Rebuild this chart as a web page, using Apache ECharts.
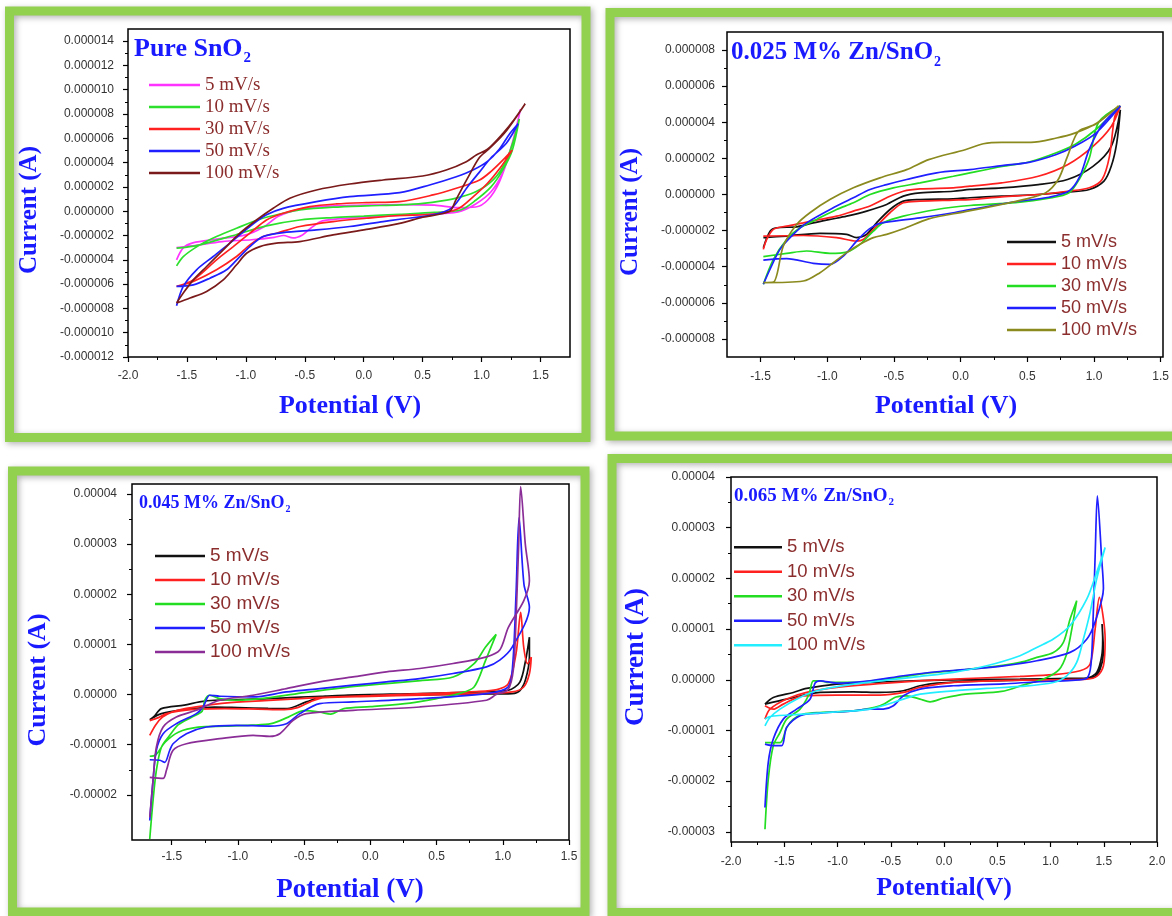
<!DOCTYPE html>
<html>
<head>
<meta charset="utf-8">
<script src="https://cdn.jsdelivr.net/npm/echarts@6/dist/echarts.min.js"></script>
<style>
  html, body { margin: 0; padding: 0; background: #fff; }
  #main { width: 1172px; height: 916px; }
</style>
</head>
<body>
<div id="main"></div>
<script>
// scan rates (legend entries, same order in every panel)
const scanRates = ['5 mV/s', '10 mV/s', '30 mV/s', '50 mV/s', '100 mV/s']
const panelTitles = ['Pure SnO', '0.025 M% Zn/SnO', '0.045 M% Zn/SnO', '0.065 M% Zn/SnO']

// CV loops: [potential V, current µA]
// --- Pure SnO2
const p1_5 = [[-1.588,-4.0],[-1.53,-3.0],[-1.45,-2.6],[-1.25,-2.3],[-1.0,-1.95],[-0.85,-1.3],[-0.72,-0.4],[-0.55,0.15],[-0.35,0.4],[0.0,0.5],[0.3,0.55],[0.6,0.5],[0.8,0.3],[0.95,0.35],[1.05,0.9],[1.15,2.4],[1.25,5.2],[1.33,8.4],
  [1.26,5.6],[1.18,3.2],[1.08,1.6],[0.95,0.6],[0.8,-0.05],[0.5,-0.25],[0.2,-0.4],[-0.1,-0.55],[-0.35,-0.8],[-0.45,-1.4],[-0.52,-1.95],[-0.6,-2.2],[-0.68,-2.0],[-0.76,-2.15],[-0.95,-2.35],[-1.2,-2.5],[-1.45,-2.85],[-1.588,-3.0]]
const p1_10 = [[-1.588,-4.5],[-1.531,-3.73],[-1.39,-2.77],[-1.249,-2.08],[-1.079,-1.4],[-0.881,-0.66],[-0.684,-0.17],[-0.542,0.11],[-0.26,0.33],[0.023,0.44],[0.305,0.52],[0.503,0.65],[0.75,1.0],[0.95,1.6],[1.1,2.6],[1.2,4.0],[1.27,5.8],[1.32,7.6],
  [1.26,5.0],[1.18,3.4],[1.08,2.0],[0.95,0.9],[0.82,0.1],[0.6,-0.1],[0.305,-0.25],[0.0,-0.4],[-0.26,-0.52],[-0.542,-0.72],[-0.825,-1.2],[-1.107,-2.0],[-1.39,-2.77],[-1.5,-2.95],[-1.588,-3.04]]
const p1_30 = [[-1.588,-6.19],[-1.446,-5.65],[-1.249,-4.0],[-1.107,-2.91],[-0.966,-1.81],[-0.825,-0.72],[-0.684,-0.17],[-0.458,0.38],[-0.232,0.6],[0.023,0.71],[0.305,0.79],[0.588,1.34],[0.785,1.89],[0.983,2.57],[1.083,3.3],[1.18,4.2],[1.26,5.03],
  [1.16,3.6],[1.05,2.3],[0.93,1.2],[0.8,0.2],[0.588,-0.25],[0.305,-0.35],[0.023,-0.58],[-0.26,-0.85],[-0.542,-1.26],[-0.74,-1.81],[-0.853,-2.08],[-0.966,-2.77],[-1.079,-3.73],[-1.249,-4.82],[-1.446,-5.78],[-1.588,-6.19]]
const p1_50 = [[-1.588,-7.78],[-1.531,-6.19],[-1.418,-4.82],[-1.277,-3.73],[-1.136,-2.63],[-0.966,-1.26],[-0.825,-0.3],[-0.684,0.24],[-0.401,0.79],[-0.119,1.2],[0.305,1.53],[0.559,2.16],[0.785,2.84],[0.927,3.39],[1.05,4.1],[1.15,5.1],[1.24,6.4],[1.31,7.2],
  [1.21,5.6],[1.08,4.4],[0.98,3.2],[0.88,2.0],[0.75,0.3],[0.588,-0.3],[0.305,-0.66],[0.164,-0.85],[-0.119,-1.26],[-0.401,-1.54],[-0.684,-1.76],[-0.853,-2.08],[-0.966,-2.91],[-1.051,-3.73],[-1.164,-4.82],[-1.305,-5.51],[-1.446,-6.06],[-1.588,-6.19]]
const p1_100 = [[-1.588,-7.56],[-1.531,-6.74],[-1.446,-5.65],[-1.333,-4.55],[-1.192,-3.18],[-1.051,-1.81],[-0.91,-0.72],[-0.768,0.24],[-0.627,1.07],[-0.401,1.75],[-0.119,2.24],[0.164,2.57],[0.5,2.9],[0.7,3.39],[0.87,4.08],[0.955,4.63],[1.05,5.1],[1.18,6.4],[1.28,7.6],[1.37,8.85],
  [1.2,6.5],[1.06,5.1],[0.98,4.4],[0.88,2.7],[0.78,0.9],[0.729,0.0],[0.5,-0.5],[0.305,-1.0],[0.023,-1.5],[-0.26,-1.95],[-0.542,-2.5],[-0.74,-2.63],[-0.881,-2.91],[-0.994,-3.46],[-1.079,-4.41],[-1.192,-5.65],[-1.333,-6.6],[-1.474,-7.15],[-1.588,-7.56]]

// --- 0.025 M% Zn/SnO2
const p2_5 = [[-1.479,-2.95],[-1.429,-2.03],[-1.379,-1.84],[-1.231,-1.79],[-1.107,-1.57],[-0.983,-1.38],[-0.858,-1.2],[-0.709,-0.92],[-0.56,-0.55],[-0.436,-0.09],[-0.311,0.09],[-0.063,0.18],[0.061,0.28],[0.297,0.37],[0.57,0.55],[0.788,0.83],[0.978,1.56],[1.114,2.67],[1.182,4.69],
  [1.155,2.85],[1.114,1.56],[1.06,0.74],[0.951,0.28],[0.788,0.13],[0.57,0.0],[0.297,-0.09],[0.061,-0.18],[-0.063,-0.24],[-0.311,-0.28],[-0.436,-0.37],[-0.535,-0.83],[-0.635,-1.57],[-0.709,-2.21],[-0.784,-2.39],[-0.858,-2.21],[-1.057,-2.15],[-1.305,-2.3],[-1.479,-2.39]]
const p2_10 = [[-1.479,-3.04],[-1.454,-2.49],[-1.404,-1.93],[-1.305,-1.75],[-1.181,-1.57],[-1.057,-1.38],[-0.933,-1.2],[-0.808,-0.92],[-0.684,-0.64],[-0.56,-0.18],[-0.436,0.18],[-0.311,0.31],[-0.063,0.37],[0.061,0.46],[0.297,0.64],[0.57,1.01],[0.788,1.65],[0.978,2.67],[1.114,3.77],[1.182,4.91],
  [1.14,4.3],[1.101,2.11],[1.046,0.83],[0.951,0.37],[0.788,0.18],[0.57,0.0],[0.297,-0.13],[0.061,-0.28],[-0.063,-0.31],[-0.311,-0.37],[-0.436,-0.46],[-0.535,-1.01],[-0.635,-1.75],[-0.734,-2.49],[-0.784,-2.58],[-0.933,-2.39],[-1.181,-2.27],[-1.479,-2.3]]
const p2_30 = [[-1.479,-4.97],[-1.404,-3.59],[-1.305,-2.49],[-1.206,-1.84],[-1.082,-1.38],[-0.933,-0.83],[-0.808,-0.46],[-0.684,0.0],[-0.51,0.37],[-0.311,0.64],[-0.063,1.01],[0.061,1.2],[0.3,1.55],[0.5,1.8],[0.7,2.3],[0.85,2.8],[1.0,3.6],[1.182,4.9],
  [1.02,4.0],[0.95,2.0],[0.88,0.9],[0.8,0.1],[0.65,-0.2],[0.4,-0.45],[0.061,-0.61],[-0.187,-0.83],[-0.436,-1.2],[-0.585,-1.57],[-0.659,-2.03],[-0.759,-2.76],[-0.858,-3.19],[-0.983,-3.26],[-1.156,-3.13],[-1.305,-3.26],[-1.479,-3.44]]
const p2_50 = [[-1.479,-4.97],[-1.429,-4.14],[-1.355,-3.04],[-1.256,-2.21],[-1.156,-1.57],[-0.933,-0.64],[-0.808,-0.18],[-0.684,0.28],[-0.56,0.55],[-0.411,0.83],[-0.187,1.2],[0.061,1.38],[0.3,1.6],[0.5,1.78],[0.7,2.2],[0.842,2.67],[1.0,3.4],[1.182,4.9],
  [1.05,3.9],[0.95,2.5],[0.88,1.0],[0.8,0.2],[0.65,-0.15],[0.4,-0.4],[0.061,-0.83],[-0.063,-1.01],[-0.311,-1.29],[-0.56,-1.53],[-0.635,-1.66],[-0.709,-2.03],[-0.784,-2.58],[-0.883,-3.41],[-0.983,-3.87],[-1.107,-3.81],[-1.305,-3.55],[-1.479,-3.63]]
const p2_100 = [[-1.479,-4.88],[-1.404,-4.85],[-1.33,-2.85],[-1.231,-1.66],[-1.132,-1.01],[-0.983,-0.28],[-0.808,0.37],[-0.61,0.92],[-0.411,1.38],[-0.247,1.93],[0.025,2.48],[0.161,2.81],[0.297,2.89],[0.515,2.89],[0.706,3.13],[0.842,3.4],[1.005,3.95],[1.169,4.91],
  [1.0,3.9],[0.869,3.49],[0.788,2.11],[0.719,0.83],[0.624,0.09],[0.45,-0.3],[0.297,-0.55],[0.025,-0.95],[-0.247,-1.35],[-0.436,-1.9],[-0.56,-2.21],[-0.659,-2.39],[-0.759,-2.76],[-0.858,-3.22],[-0.958,-3.78],[-1.057,-4.33],[-1.181,-4.79],[-1.479,-4.88]]

// --- 0.045 M% Zn/SnO2
const p3_5 = [[-1.666,-5.0],[-1.635,-4.4],[-1.578,-2.8],[-1.405,-2.1],[-1.29,-1.46],[-1.175,-1.13],[-0.772,-0.79],[-0.196,-0.13],[0.38,0.2],[0.812,0.53],[1.042,0.86],[1.129,2.5],[1.172,6.8],[1.201,11.46],
  [1.201,7.48],[1.172,3.0],[1.129,0.8],[1.071,0.2],[0.812,0.1],[0.38,-0.05],[0.092,-0.13],[-0.34,-0.3],[-0.484,-1.46],[-0.628,-2.78],[-0.772,-2.75],[-1.0,-2.6],[-1.175,-2.5],[-1.405,-3.0],[-1.578,-3.8],[-1.666,-5.0]]
const p3_10 = [[-1.666,-8.13],[-1.62,-6.0],[-1.57,-4.5],[-1.5,-3.5],[-1.4,-2.8],[-1.25,-2.2],[-1.1,-1.7],[-0.8,-1.2],[-0.4,-0.6],[0.0,-0.2],[0.4,0.2],[0.8,0.6],[0.956,1.0],[1.042,2.19],[1.1,8.15],[1.135,16.4],[1.158,9.47],[1.187,6.16],[1.215,7.48],
  [1.201,4.17],[1.158,1.52],[1.071,0.53],[0.812,0.2],[0.4,-0.1],[0.0,-0.35],[-0.35,-0.6],[-0.45,-1.4],[-0.55,-2.6],[-0.65,-3.0],[-0.85,-2.9],[-1.1,-2.8],[-1.3,-2.9],[-1.45,-3.3],[-1.55,-3.9],[-1.6,-4.6],[-1.666,-5.2]]
const p3_30 = [[-1.666,-28.8],[-1.641,-21.1],[-1.616,-15.1],[-1.578,-10.5],[-1.515,-8.13],[-1.45,-6.0],[-1.35,-4.5],[-1.27,-3.3],[-1.25,-1.1],[-1.213,-0.13],[-1.137,-0.8],[-1.012,-1.13],[-0.76,-0.6],[-0.5,0.4],[-0.2,1.4],[0.121,2.2],[0.38,2.8],[0.625,3.5],[0.783,6.16],[0.87,9.47],[0.95,12.0],
  [0.87,6.82],[0.783,1.52],[0.668,0.2],[0.5,-0.8],[0.3,-1.7],[0.0,-2.4],[-0.2,-2.8],[-0.3,-3.9],[-0.38,-3.5],[-0.5,-3.2],[-0.62,-4.5],[-0.75,-5.8],[-0.9,-6.1],[-1.1,-6.3],[-1.3,-6.5],[-1.45,-7.5],[-1.55,-9.5],[-1.62,-12.0],[-1.666,-12.3]]
const p3_50 = [[-1.666,-25.1],[-1.641,-17.1],[-1.616,-11.1],[-1.565,-7.8],[-1.465,-5.8],[-1.314,-3.8],[-1.263,-2.47],[-1.213,-0.13],[-1.137,-0.33],[-0.886,-0.47],[-0.634,0.53],[-0.382,1.2],[-0.131,1.87],[0.121,2.53],[0.373,3.2],[0.625,4.2],[0.877,5.53],[0.977,6.87],[1.071,9.47],[1.201,17.4],
  [1.16,22.0],[1.123,35.3],[1.1,20.0],[1.075,6.0],[1.04,1.5],[0.877,0.2],[0.373,-0.8],[-0.131,-1.47],[-0.382,-1.8],[-0.533,-3.8],[-0.634,-5.8],[-0.76,-6.27],[-1.012,-6.13],[-1.238,-6.47],[-1.389,-7.8],[-1.49,-9.8],[-1.515,-11.1],[-1.553,-13.5],[-1.59,-13.1],[-1.666,-13.0]]
const p3_100 = [[-1.666,-24.5],[-1.641,-17.1],[-1.616,-10.5],[-1.565,-6.47],[-1.465,-4.47],[-1.314,-3.13],[-1.137,-1.13],[-0.886,-0.13],[-0.634,1.2],[-0.382,2.53],[-0.131,3.53],[0.121,4.53],[0.373,5.2],[0.625,6.2],[0.877,7.53],[0.977,8.87],[1.042,13.4],[1.158,18.7],[1.201,22.7],
  [1.17,30.0],[1.135,41.5],[1.12,30.0],[1.1,15.0],[1.08,5.0],[1.04,1.0],[0.95,0.0],[0.877,-1.13],[0.373,-2.47],[-0.131,-3.13],[-0.483,-3.8],[-0.583,-5.13],[-0.684,-7.8],[-0.76,-8.33],[-0.886,-8.13],[-1.137,-8.8],[-1.389,-9.8],[-1.49,-11.1],[-1.54,-15.1],[-1.565,-16.7],[-1.666,-16.5]]

// --- 0.065 M% Zn/SnO2
const p4_5 = [[-1.681,-4.8],[-1.603,-3.5],[-1.415,-2.5],[-1.29,-1.7],[-1.008,-0.86],[-0.538,-0.39],[0.088,0.0],[0.714,0.13],[1.184,0.26],[1.34,0.33],[1.434,1.45],[1.481,4.7],[1.49,8.0],[1.484,11.0],
  [1.497,5.4],[1.466,2.1],[1.403,0.46],[1.1,0.1],[0.401,-0.2],[-0.068,-0.66],[-0.225,-1.18],[-0.381,-2.17],[-0.601,-2.5],[-0.851,-2.37],[-1.164,-2.5],[-1.477,-3.82],[-1.681,-4.8]]
const p4_10 = [[-1.681,-7.76],[-1.634,-5.8],[-1.477,-3.8],[-1.29,-2.5],[-1.008,-1.5],[-0.538,-0.66],[0.088,0.13],[0.714,0.66],[1.027,1.0],[1.278,1.78],[1.372,3.1],[1.419,10.0],[1.459,16.25],[1.497,12.0],[1.513,8.0],
  [1.497,2.76],[1.434,0.66],[1.34,0.13],[0.714,-0.07],[0.088,-0.53],[-0.225,-1.51],[-0.381,-2.5],[-0.601,-3.03],[-1.008,-3.03],[-1.321,-3.16],[-1.509,-4.8],[-1.603,-5.8],[-1.681,-5.13]]
const p4_30 = [[-1.681,-29.5],[-1.65,-19.6],[-1.603,-13.0],[-1.54,-10.4],[-1.477,-7.76],[-1.352,-5.79],[-1.27,-3.0],[-1.227,-0.2],[-1.164,-0.2],[-1.1,-0.5],[-0.851,-0.53],[-0.538,0.13],[-0.225,1.12],[0.088,1.78],[0.401,2.43],[0.714,3.42],[0.871,4.41],[1.027,5.4],[1.121,7.4],[1.184,12.0],[1.246,15.6],
  [1.2,10.0],[1.15,5.0],[1.08,2.0],[0.95,0.3],[0.75,-1.0],[0.54,-2.3],[0.2,-2.84],[0.0,-3.6],[-0.131,-4.34],[-0.225,-3.82],[-0.35,-3.16],[-0.45,-3.4],[-0.601,-5.13],[-0.851,-6.12],[-1.164,-6.45],[-1.321,-6.78],[-1.415,-7.76],[-1.477,-9.4],[-1.54,-12.4],[-1.681,-12.4]]
const p4_50 = [[-1.681,-25.2],[-1.65,-16.3],[-1.603,-11.7],[-1.509,-7.76],[-1.384,-5.79],[-1.258,-3.82],[-1.211,-0.66],[-1.164,-0.2],[-1.008,-0.66],[-0.695,-0.2],[-0.381,0.79],[-0.068,1.58],[0.244,2.1],[0.558,2.76],[0.871,3.75],[1.184,5.4],[1.34,8.0],[1.42,11.5],[1.497,18.0],
  [1.48,24.0],[1.44,36.3],[1.42,25.0],[1.4,12.0],[1.38,3.0],[1.34,0.3],[1.2,-0.1],[0.871,-0.4],[0.558,-0.8],[0.088,-1.18],[-0.225,-1.84],[-0.381,-3.16],[-0.475,-5.13],[-0.57,-5.79],[-0.695,-5.79],[-0.851,-6.12],[-1.164,-6.58],[-1.352,-7.1],[-1.477,-9.4],[-1.524,-13.0],[-1.603,-13.0],[-1.681,-12.7]]
const p4_100 = [[-1.681,-9.08],[-1.634,-7.43],[-1.54,-5.79],[-1.384,-3.82],[-1.196,-2.17],[-0.851,-0.86],[-0.538,-0.07],[-0.225,0.66],[0.088,1.45],[0.401,2.76],[0.714,4.74],[0.871,6.38],[1.027,8.03],[1.184,10.7],[1.34,15.9],[1.434,21.2],[1.513,26.1],
  [1.434,19.9],[1.372,13.3],[1.309,8.03],[1.246,3.42],[1.152,0.79],[1.027,-0.53],[0.714,-1.32],[0.401,-1.71],[0.088,-2.17],[-0.225,-2.83],[-0.381,-3.82],[-0.695,-5.79],[-1.008,-6.32],[-1.321,-6.78],[-1.634,-7.24],[-1.681,-7.76]]

const serif = "'Liberation Serif', 'Times New Roman', serif"
const sans = "'Liberation Sans', Arial, sans-serif"
const blueText = '#1a1aff'
const legendText = '#8b2d2d'

// layout of the four panels (pixels), axis extents and tick ranges
const panels = [
  { L: 128, T: 29, W: 442, H: 328, xr: [-2, 1.75], yr: [-12, 15], xt: [-2, 1.5, 0.5], yt: [-12, 14, 2], dec: 6, xm: 13, ym: 14,
    curves: [p1_5, p1_10, p1_30, p1_50, p1_100], colors: ['#ff33ff', '#2ee02e', '#ff2020', '#1f1fff', '#7a1a1a'],
    title: { x: 134, y: 49, size: 26 }, xTitle: { x: 350, y: 406, size: 26, text: 'Potential (V)' }, yTitle: { x: 30, y: 210, size: 25 },
    legend: { x: 149, y: 74, w: 51, gap: 22, size: 19, font: serif } },
  { L: 727, T: 32, W: 436, H: 325, xr: [-1.75, 1.5], yr: [-9, 9], xt: [-1.5, 1.5, 0.5], yt: [-8, 8, 2], dec: 6, xm: 14, ym: 12,
    curves: [p2_5, p2_10, p2_30, p2_50, p2_100], colors: ['#111111', '#ff2020', '#22dd22', '#1f1fff', '#8a8a1e'],
    title: { x: 731, y: 53, size: 25 }, xTitle: { x: 946, y: 406, size: 26, text: 'Potential (V)' }, yTitle: { x: 631, y: 212, size: 25 },
    legend: { x: 1007, y: 231, w: 49, gap: 22, size: 18, font: sans } },
  { L: 132, T: 484, W: 437, H: 356, xr: [-1.8, 1.5], yr: [-29, 42], xt: [-1.5, 1.5, 0.5], yt: [-20, 40, 10], dec: 5, xm: 11, ym: 15,
    curves: [p3_5, p3_10, p3_30, p3_50, p3_100], colors: ['#111111', '#ff2020', '#22dd22', '#1f1fff', '#8a2d96'],
    title: { x: 139, y: 503, size: 18 }, xTitle: { x: 350, y: 890, size: 27, text: 'Potential (V)' }, yTitle: { x: 38, y: 680, size: 26 },
    legend: { x: 155, y: 544, w: 50, gap: 24, size: 19, font: sans } },
  { L: 731, T: 477, W: 426, H: 365, xr: [-2, 2], yr: [-32, 40], xt: [-2, 2, 0.5], yt: [-30, 40, 10], dec: 5, xm: 14, ym: 16,
    curves: [p4_5, p4_10, p4_30, p4_50, p4_100], colors: ['#111111', '#ff2020', '#22dd22', '#1f1fff', '#22eeff'],
    title: { x: 734, y: 496, size: 19 }, xTitle: { x: 944, y: 888, size: 26, text: 'Potential(V)' }, yTitle: { x: 636, y: 657, size: 27 },
    legend: { x: 734, y: 535, w: 48, gap: 24.5, size: 18.5, font: sans } }
]

// green frames round each panel
const frames = [[9.5, 11, 576.5, 426.5], [610, 12.5, 570, 423.5], [12.5, 471, 572.5, 441], [612, 458.5, 570, 454]]

const chart = echarts.init(document.getElementById('main'))
const option = { animation: false, backgroundColor: '#fff', grid: [], xAxis: [], yAxis: [], legend: [], series: [], graphic: [] }

const tickStyle = { show: true, length: 5, lineStyle: { color: '#000', width: 1.2 } }
const minorStyle = { show: true, splitNumber: 2, length: 3, lineStyle: { color: '#000', width: 1 } }

panels.forEach((p, idx) => {
  const g0 = idx * 3
  const px = v => p.L + (v - p.xr[0]) / (p.xr[1] - p.xr[0]) * p.W
  const py = v => p.T + (p.yr[1] - v) / (p.yr[1] - p.yr[0]) * p.H

  // data grid with the black frame
  option.grid.push({ left: p.L, top: p.T, width: p.W, height: p.H, show: true, borderColor: '#000', borderWidth: 1.5 })
  option.xAxis.push({ type: 'value', gridIndex: g0, min: p.xr[0], max: p.xr[1], show: false })
  option.yAxis.push({ type: 'value', gridIndex: g0, min: p.yr[0], max: p.yr[1], show: false })

  // x ticks + labels
  option.grid.push({ left: px(p.xt[0]), top: p.T, width: px(p.xt[1]) - px(p.xt[0]), height: p.H })
  option.xAxis.push({
    type: 'value', gridIndex: g0 + 1, min: p.xt[0], max: p.xt[1], interval: p.xt[2],
    axisLine: { show: false, onZero: false }, axisTick: tickStyle, minorTick: minorStyle,
    splitLine: { show: false }, minorSplitLine: { show: false },
    axisLabel: { margin: p.xm, fontSize: 12, color: '#333', fontFamily: sans, formatter: v => v.toFixed(1) }
  })
  option.yAxis.push({ type: 'value', gridIndex: g0 + 1, min: 0, max: 1, show: false })

  // y ticks + labels
  option.grid.push({ left: p.L, top: py(p.yt[1]), width: p.W, height: py(p.yt[0]) - py(p.yt[1]) })
  option.xAxis.push({ type: 'value', gridIndex: g0 + 2, min: 0, max: 1, show: false })
  option.yAxis.push({
    type: 'value', gridIndex: g0 + 2, min: p.yt[0], max: p.yt[1], interval: p.yt[2],
    axisLine: { show: false, onZero: false }, axisTick: tickStyle, minorTick: minorStyle,
    splitLine: { show: false }, minorSplitLine: { show: false },
    axisLabel: { margin: p.ym, fontSize: 12, color: '#333', fontFamily: sans, formatter: v => (v * 1e-6).toFixed(p.dec) }
  })

  p.curves.forEach((data, k) => {
    option.series.push({
      type: 'line', name: scanRates[k], xAxisIndex: g0, yAxisIndex: g0, data: data,
      symbol: 'none', showSymbol: false, smooth: 0.3, silent: true,
      lineStyle: { color: p.colors[k], width: 1.7 }, itemStyle: { color: p.colors[k] }
    })
  })

  // legend drawn as plain line swatches
  option.legend.push({
    orient: 'vertical', left: p.legend.x, top: p.legend.y, padding: 0, itemGap: 0,
    itemWidth: p.legend.w, itemHeight: 2.5, icon: 'rect', selectedMode: false,
    textStyle: { fontFamily: p.legend.font, fontSize: p.legend.size, color: legendText, lineHeight: p.legend.gap },
    data: scanRates.map((n, k) => ({ name: n, icon: 'rect', itemStyle: { color: p.colors[k], borderWidth: 0 } }))
  })

  // panel title with subscript 2
  const f = p.title.size
  option.graphic.push({
    type: 'text', x: p.title.x, y: p.title.y,
    style: {
      text: '{a|' + panelTitles[idx] + '}{s|2}', align: 'left', verticalAlign: 'middle',
      rich: {
        a: { fontFamily: serif, fontWeight: 'bold', fontSize: f, fill: blueText },
        s: { fontFamily: serif, fontWeight: 'bold', fontSize: Math.round(f * 0.58), fill: blueText, padding: [Math.round(f * 0.7), 0, 0, 1] }
      }
    }
  })
  option.graphic.push({
    type: 'text', x: p.xTitle.x, y: p.xTitle.y,
    style: { text: p.xTitle.text, align: 'center', verticalAlign: 'middle', fontFamily: serif, fontWeight: 'bold', fontSize: p.xTitle.size, fill: blueText }
  })
  option.graphic.push({
    type: 'text', x: p.yTitle.x, y: p.yTitle.y, rotation: Math.PI / 2,
    style: { text: 'Current (A)', align: 'center', verticalAlign: 'middle', fontFamily: serif, fontWeight: 'bold', fontSize: p.yTitle.size, fill: blueText }
  })
})

frames.forEach(r => {
  option.graphic.push({
    type: 'rect', shape: { x: r[0], y: r[1], width: r[2], height: r[3] },
    style: { fill: 'none', stroke: '#92d050', lineWidth: 9, shadowBlur: 6, shadowColor: 'rgba(0,0,0,0.3)', shadowOffsetX: 2, shadowOffsetY: 2 }
  })
})

chart.setOption(option)
</script>
</body>
</html>
